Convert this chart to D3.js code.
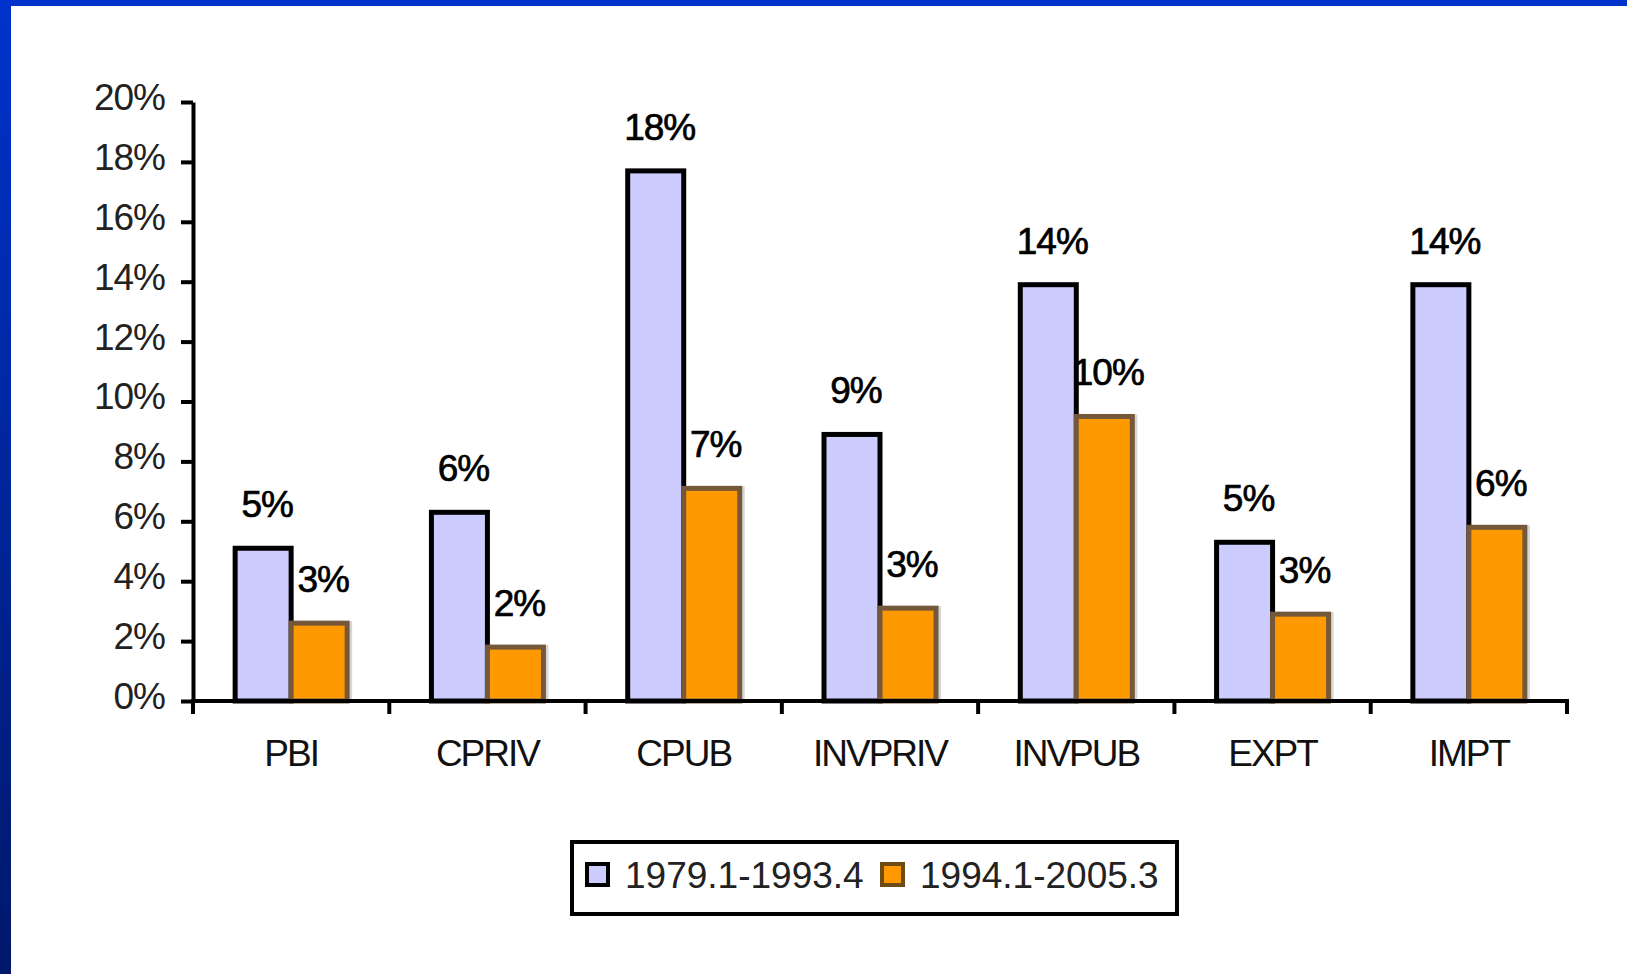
<!DOCTYPE html>
<html>
<head>
<meta charset="utf-8">
<script src="https://cdn.jsdelivr.net/npm/d3@7"></script>
<style>
  body { margin: 0; background: #fff; }
  text { font-family: "Liberation Sans", Arial, sans-serif; }
</style>
</head>
<body>
<div id="chart"></div>
<script>
// data
var categories = ["PBI", "CPRIV", "CPUB", "INVPRIV", "INVPUB", "EXPT", "IMPT"];
var seriesNames = ["1979.1-1993.4", "1994.1-2005.3"];
var early = [0.051, 0.063, 0.177, 0.089, 0.139, 0.053, 0.139];
var late = [0.026, 0.018, 0.071, 0.031, 0.095, 0.029, 0.058];
var earlyLabels = ["5%", "6%", "18%", "9%", "14%", "5%", "14%"];
var lateLabels = ["3%", "2%", "7%", "3%", "10%", "3%", "6%"];
var yTicks = [0, 0.02, 0.04, 0.06, 0.08, 0.10, 0.12, 0.14, 0.16, 0.18, 0.20];

var svgWidth = 1627;
var svgHeight = 974;

var svg = d3.select("#chart")
  .append("svg")
  .attr("width", svgWidth)
  .attr("height", svgHeight);

// slide frame: blue top strip and gradient left strip
var defs = svg.append("defs");
var grad = defs.append("linearGradient")
  .attr("id", "leftGrad")
  .attr("x1", 0).attr("y1", 0).attr("x2", 0).attr("y2", 1);
grad.append("stop").attr("offset", "0%").attr("stop-color", "#0033cc");
grad.append("stop").attr("offset", "100%").attr("stop-color", "#00186a");

svg.append("rect").attr("x", 0).attr("y", 0).attr("width", 11).attr("height", svgHeight)
  .attr("fill", "url(#leftGrad)");
svg.append("rect").attr("x", 0).attr("y", 0).attr("width", svgWidth).attr("height", 6)
  .attr("fill", "#0033cc");

var plotLeft = 193, plotRight = 1567, plotTop = 102, plotBottom = 701;

var x = d3.scaleBand()
  .domain(categories)
  .range([plotLeft, plotRight])
  .padding(0);

var y = d3.scaleLinear()
  .domain([0, 0.20])
  .range([plotBottom, plotTop]);

var barW = 56;
var groupOff = (x.bandwidth() - 2 * barW) / 2;

var chartGroup = svg.append("g");

// blue bars
chartGroup.selectAll(".early")
  .data(early)
  .enter()
  .append("rect")
  .attr("class", "early")
  .attr("x", function(d, i) { return x(categories[i]) + groupOff; })
  .attr("y", function(d) { return y(d); })
  .attr("width", barW)
  .attr("height", function(d) { return y(0) - y(d); })
  .attr("fill", "#ccccff")
  .attr("stroke", "#000")
  .attr("stroke-width", 5);

// shadow behind orange bars
chartGroup.selectAll(".lateShadow")
  .data(late)
  .enter()
  .append("rect")
  .attr("class", "lateShadow")
  .attr("x", function(d, i) { return x(categories[i]) + groupOff + barW + 5; })
  .attr("y", function(d) { return y(d) - 2; })
  .attr("width", barW)
  .attr("height", function(d) { return y(0) - y(d) + 2; })
  .attr("fill", "#d6d6d6");

// orange bars
chartGroup.selectAll(".late")
  .data(late)
  .enter()
  .append("rect")
  .attr("class", "late")
  .attr("x", function(d, i) { return x(categories[i]) + groupOff + barW; })
  .attr("y", function(d) { return y(d); })
  .attr("width", barW)
  .attr("height", function(d) { return y(0) - y(d); })
  .attr("fill", "#ff9900")
  .attr("stroke", "#75583a")
  .attr("stroke-width", 5);

// value labels
chartGroup.selectAll(".earlyLabel")
  .data(early)
  .enter()
  .append("text")
  .attr("x", function(d, i) { return x(categories[i]) + groupOff + barW / 2 + 4; })
  .attr("y", function(d) { return y(d) - 31; })
  .attr("text-anchor", "middle")
  .attr("font-size", 37)
  .attr("letter-spacing", -1)
  .attr("fill", "#000")
  .attr("stroke", "#000")
  .attr("stroke-width", 0.7)
  .text(function(d, i) { return earlyLabels[i]; });

chartGroup.selectAll(".lateLabel")
  .data(late)
  .enter()
  .append("text")
  .attr("x", function(d, i) { return x(categories[i]) + groupOff + barW * 1.5 + 4; })
  .attr("y", function(d) { return y(d) - 31; })
  .attr("text-anchor", "middle")
  .attr("font-size", 37)
  .attr("letter-spacing", -1)
  .attr("fill", "#000")
  .attr("stroke", "#000")
  .attr("stroke-width", 0.7)
  .text(function(d, i) { return lateLabels[i]; });

// y axis
var leftAxis = d3.axisLeft(y)
  .tickValues(yTicks)
  .tickFormat(d3.format(".0%"))
  .tickSize(12)
  .tickSizeOuter(0)
  .tickPadding(16);

var yAxisG = svg.append("g")
  .attr("transform", "translate(" + plotLeft + ",0)")
  .call(leftAxis);
yAxisG.select(".domain").attr("stroke", "#000").attr("stroke-width", 4);
yAxisG.selectAll(".tick line").attr("stroke", "#000").attr("stroke-width", 4);
yAxisG.selectAll(".tick text")
  .attr("font-size", 37)
  .attr("font-family", "Liberation Sans, Arial, sans-serif")
  .attr("fill", "#222")
  .attr("letter-spacing", -1)
  .attr("dy", "0.2em");

// x axis
var bottomAxis = d3.axisBottom(x)
  .tickSize(0)
  .tickPadding(39);

var xAxisG = svg.append("g")
  .attr("transform", "translate(0," + plotBottom + ")")
  .call(bottomAxis);
xAxisG.select(".domain").attr("stroke", "#000").attr("stroke-width", 4)
  .attr("d", "M" + (plotLeft - 2) + ",0H" + (plotRight + 2));
xAxisG.selectAll(".tick text")
  .attr("font-size", 37)
  .attr("font-family", "Liberation Sans, Arial, sans-serif")
  .attr("fill", "#111")
  .attr("letter-spacing", -2);

// boundary ticks between categories
var bounds = categories.map(function(c) { return x(c); }).concat([plotRight]);
xAxisG.selectAll(".bound")
  .data(bounds)
  .enter()
  .append("line")
  .attr("x1", function(d) { return d; })
  .attr("x2", function(d) { return d; })
  .attr("y1", 0)
  .attr("y2", 13)
  .attr("stroke", "#000")
  .attr("stroke-width", 4);

// legend
var legend = svg.append("g");
legend.append("rect")
  .attr("x", 572).attr("y", 842)
  .attr("width", 605).attr("height", 72)
  .attr("fill", "#fff")
  .attr("stroke", "#000")
  .attr("stroke-width", 4);

var legendX = [587, 882];
var legendFill = ["#ccccff", "#ff9900"];
var legendStroke = ["#000", "#6e4a14"];

legend.selectAll(".swatch")
  .data(seriesNames)
  .enter()
  .append("rect")
  .attr("x", function(d, i) { return legendX[i]; })
  .attr("y", 864)
  .attr("width", 21)
  .attr("height", 21)
  .attr("fill", function(d, i) { return legendFill[i]; })
  .attr("stroke", function(d, i) { return legendStroke[i]; })
  .attr("stroke-width", 4);

legend.selectAll(".ltext")
  .data(seriesNames)
  .enter()
  .append("text")
  .attr("x", function(d, i) { return legendX[i] + 38; })
  .attr("y", 888)
  .attr("font-size", 37)
  .attr("fill", "#222")
  .text(function(d) { return d; });
</script>
</body>
</html>
